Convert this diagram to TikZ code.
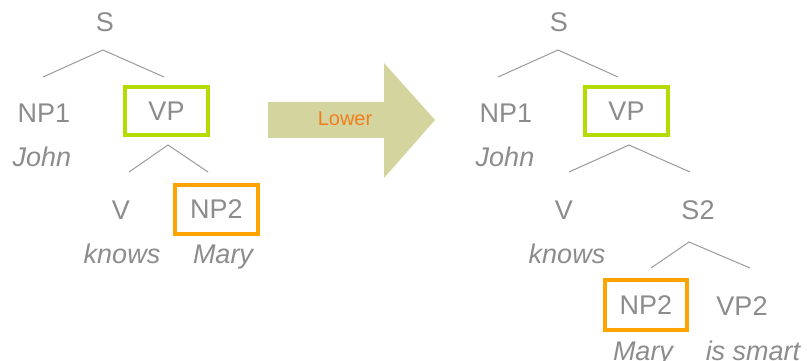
\documentclass[tikz,border=0pt]{standalone}
\usepackage{fontspec}
\setmainfont{Liberation Sans}
\definecolor{txtgray}{HTML}{8C8C8C}
\definecolor{linegray}{HTML}{9A9A9A}
\definecolor{boxgreen}{HTML}{B5DC00}
\definecolor{boxorange}{HTML}{FFA300}
\definecolor{arrowkhaki}{HTML}{D4D59E}
\definecolor{lowerorange}{HTML}{F27D1F}
\begin{document}
\begin{tikzpicture}[x=1pt,y=-1pt,
  cat/.style={text=txtgray,font=\fontsize{27}{30}\selectfont,anchor=base,inner sep=0pt},
  word/.style={text=txtgray,font=\fontsize{27}{30}\selectfont\itshape,anchor=base,inner sep=0pt},
  hbox/.style={draw=#1,line width=4pt,text=txtgray,font=\fontsize{27}{30}\selectfont,inner sep=0pt},
  branch/.style={draw=linegray,line width=1pt}]
\useasboundingbox (0,0) rectangle (807,361);
% ---------- left tree ----------
\node[cat] (ls) at (105,32) {S};
\node[cat] (lnp1) at (44,122) {NP1};
\node[word] (ljohn) at (42,166) {John};
\node[hbox=boxgreen,minimum width=83pt,minimum height=48pt] (lvp) at (166.5,111) {VP};
\node[cat] (lv) at (121,219) {V};
\node[hbox=boxorange,minimum width=83pt,minimum height=49pt] (lnp2) at (216.5,209.5) {NP2};
\node[word] (lknows) at (122,263) {knows};
\node[word] (lmary) at (223,263) {Mary};
\coordinate (lsa) at (103,50);
\coordinate (lsl) at (43,77);
\coordinate (lsr) at (164,77);
\coordinate (lvpa) at (168,145);
\coordinate (lvpl) at (129,172);
\coordinate (lvpr) at (208,172);
\draw[branch] (lsl) -- (lsa) -- (lsr);
\draw[branch] (lvpl) -- (lvpa) -- (lvpr);
% ---------- arrow ----------
\fill[arrowkhaki] (268,102) -- (384,102) -- (384,63) -- (435,120) -- (384,178) -- (384,138) -- (268,138) -- cycle;
\node[text=lowerorange,font=\fontsize{20}{22}\selectfont,anchor=base,inner sep=0pt] (lower) at (345,126) {Lower};
% ---------- right tree ----------
\node[cat] (rs) at (559,32) {S};
\node[cat] (rnp1) at (506,122) {NP1};
\node[word] (rjohn) at (505,166) {John};
\node[hbox=boxgreen,minimum width=83pt,minimum height=48pt] (rvp) at (626.5,111) {VP};
\node[cat] (rv) at (564,219) {V};
\node[word] (rknows) at (567,263) {knows};
\node[cat] (rs2) at (698,219) {S2};
\node[hbox=boxorange,minimum width=82pt,minimum height=50pt] (rnp2) at (646,305) {NP2};
\node[cat] (rvp2) at (742,315) {VP2};
\node[word] (rmary) at (643,360) {Mary};
\node[word] (rsmart) at (753,360) {is smart};
\coordinate (rsa) at (558,50);
\coordinate (rsl) at (498,77);
\coordinate (rsr) at (618,77);
\coordinate (rvpa) at (629,145);
\coordinate (rvpl) at (569,172);
\coordinate (rvpr) at (690,172);
\coordinate (rs2a) at (689,242);
\coordinate (rs2l) at (651,268);
\coordinate (rs2r) at (750,268);
\draw[branch] (rsl) -- (rsa) -- (rsr);
\draw[branch] (rvpl) -- (rvpa) -- (rvpr);
\draw[branch] (rs2l) -- (rs2a) -- (rs2r);
\end{tikzpicture}
\end{document}
